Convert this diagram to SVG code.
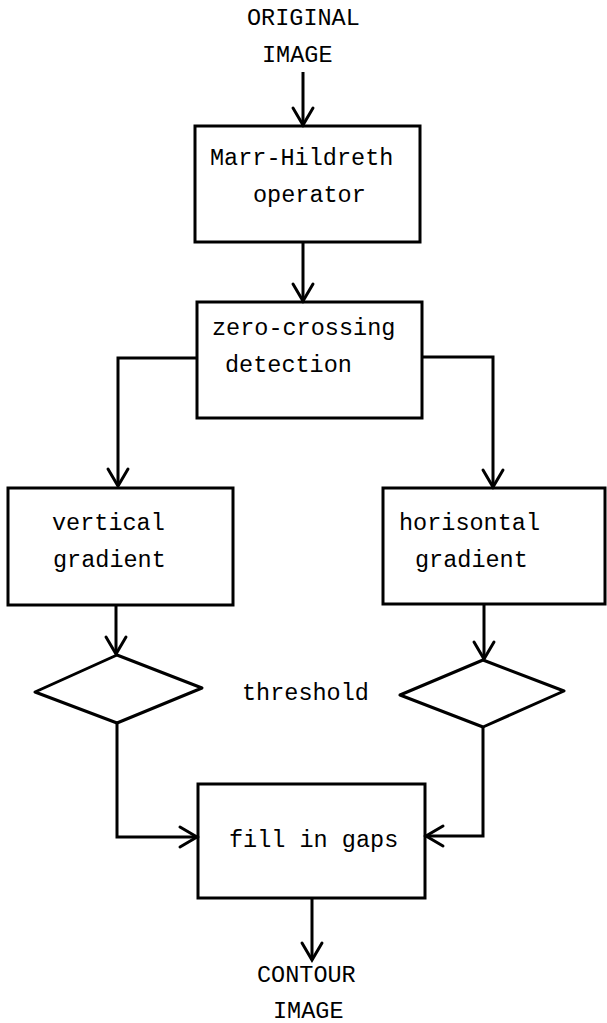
<svg xmlns="http://www.w3.org/2000/svg" width="607" height="1023" viewBox="0 0 607 1023">
<style>
  .box { fill: #fff; stroke: #000; stroke-width: 3; }
  .dia { fill: #fff; stroke: #000; stroke-width: 3; stroke-linejoin: round; }
  .lbl { font-family: "Liberation Mono", "DejaVu Sans Mono", monospace; font-size: 23.5px; fill: #000; }
  .con { fill: none; stroke: #000; stroke-width: 3; marker-end: url(#arr); }
</style>
<defs>
  <marker id="arr" markerUnits="userSpaceOnUse" markerWidth="24" markerHeight="26" viewBox="-20 -13 24 26" refX="0" refY="0" orient="auto">
    <path d="M-17,-10 L0,0 L-17,10" fill="none" stroke="#000" stroke-width="3" stroke-linecap="round" stroke-linejoin="miter"/>
  </marker>
</defs>
<rect width="607" height="1023" fill="#fff"/>

<g id="original">
  <text class="lbl" x="247" y="25">ORIGINAL</text>
  <text class="lbl" x="262" y="62">IMAGE</text>
</g>
<g id="marr-hildreth">
  <rect class="box" x="195" y="126" width="225" height="116"/>
  <text class="lbl" x="210" y="165">Marr-Hildreth</text>
  <text class="lbl" x="253" y="202">operator</text>
</g>
<g id="zero-crossing">
  <rect class="box" x="197" y="302" width="225" height="116"/>
  <text class="lbl" x="212" y="335">zero-crossing</text>
  <text class="lbl" x="225" y="372">detection</text>
</g>
<g id="vertical-gradient">
  <rect class="box" x="8" y="488" width="225" height="117"/>
  <text class="lbl" x="52" y="530">vertical</text>
  <text class="lbl" x="53" y="567">gradient</text>
</g>
<g id="horisontal-gradient">
  <rect class="box" x="383" y="488" width="222" height="116"/>
  <text class="lbl" x="399" y="530">horisontal</text>
  <text class="lbl" x="415" y="567">gradient</text>
</g>
<g id="threshold-left">
  <polygon class="dia" points="117,655 202,688 117,723 35,692"/>
</g>
<g id="threshold-label">
  <text class="lbl" x="242" y="700">threshold</text>
</g>
<g id="threshold-right">
  <polygon class="dia" points="483,660 564,691 483,727 400,695"/>
</g>
<g id="fill-in-gaps">
  <rect class="box" x="198" y="784" width="227" height="114"/>
  <text class="lbl" x="229" y="847">fill in gaps</text>
</g>
<g id="contour">
  <text class="lbl" x="257" y="982">CONTOUR</text>
  <text class="lbl" x="273" y="1018">IMAGE</text>
</g>

<g id="connectors">
  <path class="con" d="M303,72 L303,125"/>
  <path class="con" d="M303,243 L303,301"/>
  <path class="con" d="M196,358 L118,358 L118,486"/>
  <path class="con" d="M423,357 L493,357 L493,487"/>
  <path class="con" d="M116,606 L116,654"/>
  <path class="con" d="M484,605 L484,659"/>
  <path class="con" d="M117,723 L117,837 L197,837"/>
  <path class="con" d="M483,727 L483,836 L426,836"/>
  <path class="con" d="M312,899 L312,960"/>
</g>
</svg>
